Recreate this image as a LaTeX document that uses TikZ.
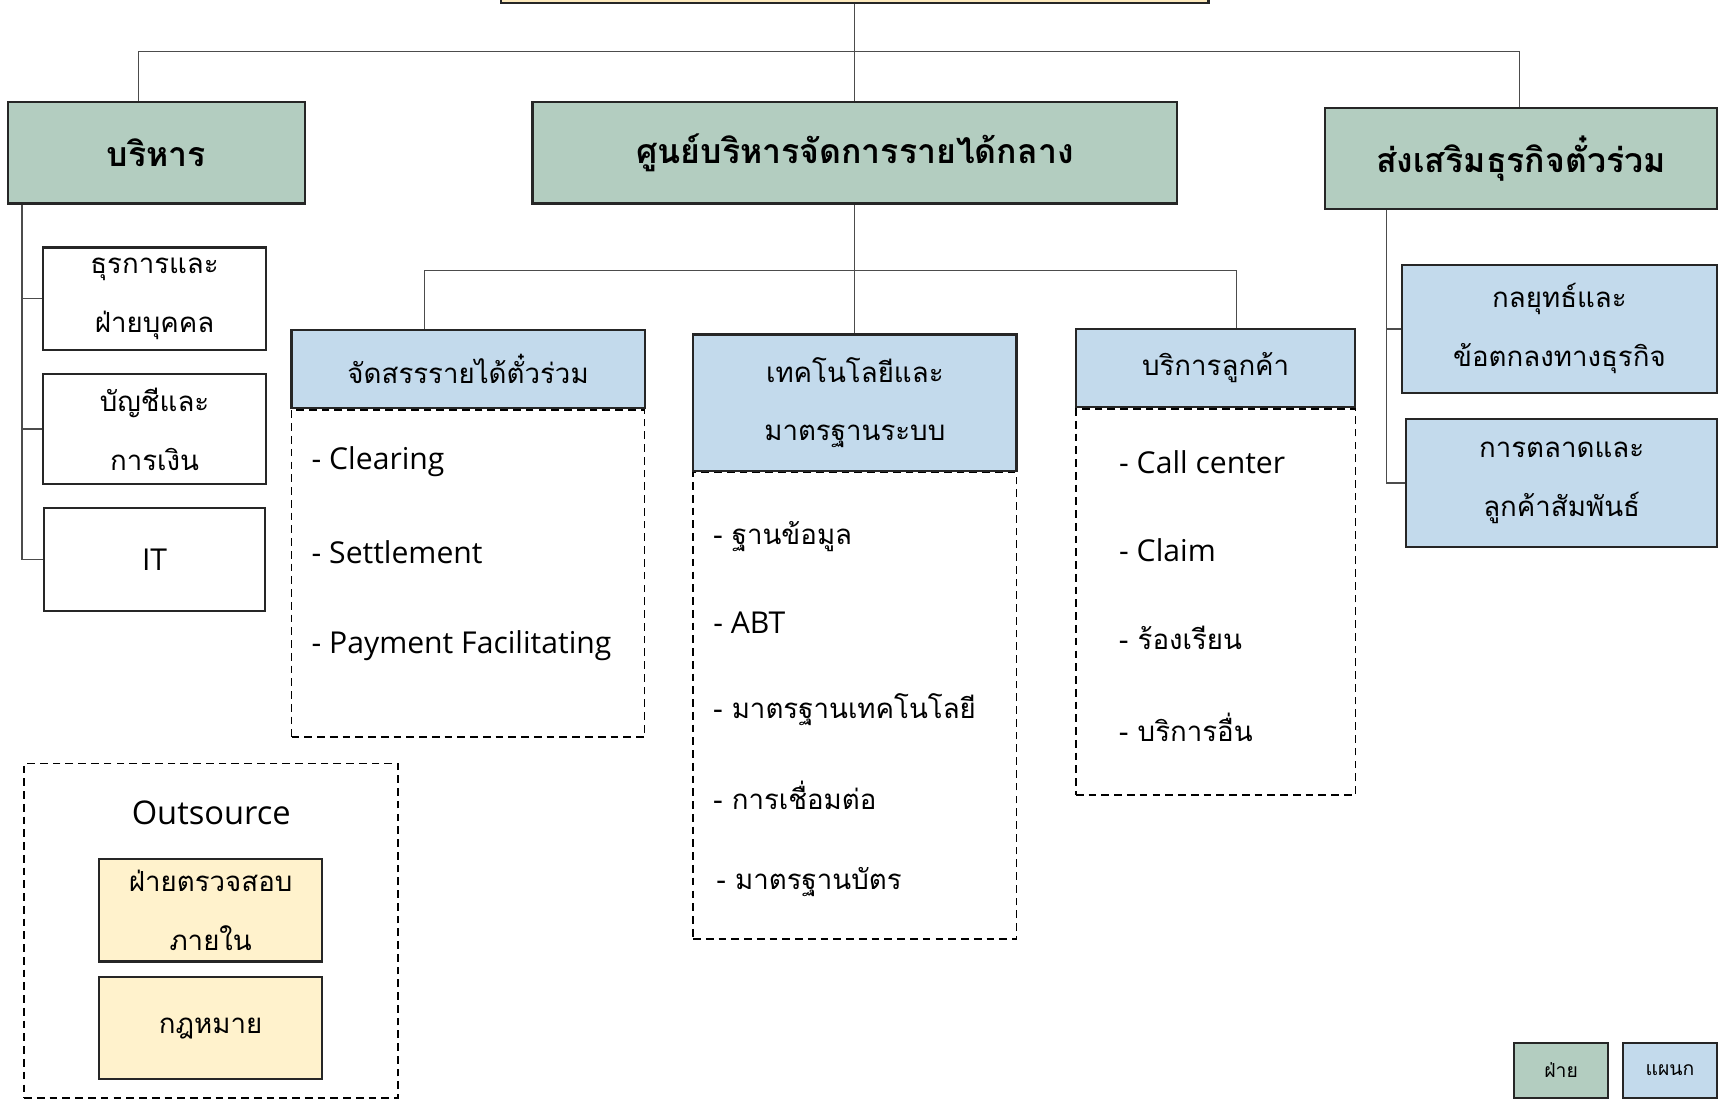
\documentclass[tikz,border=0pt]{standalone}
\usepackage{fontspec}
\setmainfont{Loma}[Script=Thai]
\newfontfamily\latinfont{Open Sans}[Scale=1.09]
\usepackage{tikz}
\usetikzlibrary{positioning}
\definecolor{divgreen}{RGB}{179,205,192}
\definecolor{deptblue}{RGB}{195,218,236}
\definecolor{outyellow}{RGB}{255,242,204}
\definecolor{headyellow}{RGB}{253,234,190}
\tikzset{division/.style={rectangle,draw=black!85,line width=1.1pt,fill=divgreen,font=\fontsize{17.5}{21}\selectfont\bfseries}}
\tikzset{dept/.style={rectangle,draw=black!85,line width=1.1pt,fill=deptblue,align=center,font=\fontsize{14.3}{30.5}\selectfont}}
\tikzset{unitbox/.style={rectangle,draw=black!85,line width=1.1pt,fill=white,align=center,font=\fontsize{14.3}{30.5}\selectfont}}
\tikzset{outbox/.style={rectangle,draw=black!85,line width=1.1pt,fill=outyellow,align=center,font=\fontsize{14.3}{30.5}\selectfont}}
\tikzset{listbox/.style={rectangle,draw=black,dash pattern=on 4pt off 2.6pt,line width=0.8pt,inner sep=0pt}}
\tikzset{listitem/.style={anchor=west,inner sep=0pt,font=\fontsize{14.3}{18}\selectfont}}
\tikzset{link/.style={draw=black!70,line width=0.6pt}}

\begin{document}
\begin{tikzpicture}
\clip (0,0) rectangle (31.36,-20.04);

% top level
\node[rectangle,draw=black!85,line width=1.1pt,fill=headyellow,minimum width=12.86cm,minimum height=0.72cm] (head) at (15.54,0.30) {};

% divisions
\node[division, minimum width=5.40cm, minimum height=1.84cm] (admin) at (2.84,-2.78) {บริหาร};
\node[division, minimum width=11.72cm, minimum height=1.84cm] (revenue) at (15.54,-2.78) {ศูนย์บริหารจัดการรายได้กลาง};
\node[division, minimum width=7.14cm, minimum height=1.84cm] (promo) at (27.65,-2.88) {ส่งเสริมธุรกิจตั๋วร่วม};

\coordinate (busL) at (2.52,-0.94);
\coordinate (busR) at (27.62,-0.94);
\draw[link] (head.south) -- (revenue.north);
\draw[link] (busL |- admin.north) -- (busL) -- (busR) -- (busR |- promo.north);

% admin units
\node[unitbox, minimum width=4.06cm, minimum height=1.86cm] (hr) at (2.81,-5.43) {ธุรการและ\\ฝ่ายบุคคล};
\node[unitbox, minimum width=4.06cm, minimum height=2.00cm] (acc) at (2.81,-7.80) {บัญชีและ\\การเงิน};
\node[unitbox, minimum width=4.02cm, minimum height=1.86cm] (it) at (2.81,-10.17) {\latinfont IT};

\coordinate (spineL) at (0.40,0);
\draw[link] (spineL |- admin.south) -- (spineL |- it.west) -- (it.west);
\draw[link] (spineL |- hr.west) -- (hr.west);
\draw[link] (spineL |- acc.west) -- (acc.west);

% revenue centre departments
\node[dept, minimum width=6.42cm, minimum height=1.42cm] (clrhead) at (8.51,-6.71) {จัดสรรรายได้ตั๋วร่วม};
\node[listbox, below=0pt of clrhead, minimum width=6.42cm, minimum height=5.94cm] (clrlist) {};
\node[dept, minimum width=5.88cm, minimum height=2.48cm] (techhead) at (15.54,-7.32) {เทคโนโลยีและ\\มาตรฐานระบบ};
\node[listbox, below=0pt of techhead, minimum width=5.88cm, minimum height=8.48cm] (techlist) {};
\node[dept, minimum width=5.08cm, minimum height=1.42cm] (cushead) at (22.10,-6.69) {บริการลูกค้า};
\node[listbox, below=0pt of cushead, minimum width=5.08cm, minimum height=7.02cm] (cuslist) {};

\coordinate (subL) at (7.72,-4.92);
\coordinate (subR) at (22.48,-4.92);
\draw[link] (revenue.south) -- (techhead.north);
\draw[link] (subL |- clrhead.north) -- (subL) -- (subR) -- (subR |- cushead.north);

\node[listitem] (clr1) at (5.66,-8.40) {\latinfont - Clearing};
\node[listitem] (clr2) at (5.66,-10.04) {\latinfont - Settlement};
\node[listitem] (clr3) at (5.66,-11.74) {\latinfont - Payment Facilitating};

\node[listitem] (tech1) at (12.96,-9.76) {- ฐานข้อมูล};
\node[listitem] (tech2) at (12.96,-11.32) {\latinfont - ABT};
\node[listitem] (tech3) at (12.96,-12.90) {- มาตรฐานเทคโนโลยี};
\node[listitem] (tech4) at (12.96,-14.46) {- การเชื่อมต่อ};
\node[listitem] (tech5) at (13.02,-16.04) {- มาตรฐานบัตร};

\node[listitem] (cus1) at (20.34,-8.40) {\latinfont - Call center};
\node[listitem] (cus2) at (20.34,-10.00) {\latinfont - Claim};
\node[listitem] (cus3) at (20.34,-11.60) {- ร้องเรียน};
\node[listitem] (cus4) at (20.34,-13.22) {- บริการอื่น};

% promotion departments
\node[dept, minimum width=5.74cm, minimum height=2.32cm] (strat) at (28.35,-5.98) {กลยุทธ์และ\\ข้อตกลงทางธุรกิจ};
\node[dept, minimum width=5.66cm, minimum height=2.32cm] (mkt) at (28.39,-8.78) {การตลาดและ\\ลูกค้าสัมพันธ์};

\coordinate (spineR) at (25.20,0);
\draw[link] (spineR |- promo.south) -- (spineR |- mkt.west) -- (mkt.west);
\draw[link] (spineR |- strat.west) -- (strat.west);

% outsource
\node[listbox, minimum width=6.80cm, minimum height=6.08cm] (outsrc) at (3.84,-16.92) {};
\node[font=\fontsize{15.5}{19}\selectfont\latinfont] (outlabel) at (3.84,-14.78) {Outsource};
\node[outbox, minimum width=4.06cm, minimum height=1.86cm] (audit) at (3.83,-16.55) {ฝ่ายตรวจสอบ\\ภายใน};
\node[outbox, minimum width=4.06cm, minimum height=1.86cm] (law) at (3.83,-18.69) {กฎหมาย};

% legend
\node[rectangle,draw=black!85,line width=1.1pt,fill=divgreen,minimum width=1.72cm,minimum height=1.0cm,font=\fontsize{10}{12}\selectfont] (legdiv) at (28.38,-19.46) {ฝ่าย};
\node[rectangle,draw=black!85,line width=1.1pt,fill=deptblue,minimum width=1.72cm,minimum height=1.0cm,font=\fontsize{10}{12}\selectfont] (legdept) at (30.36,-19.46) {แผนก};
\end{tikzpicture}
\end{document}
